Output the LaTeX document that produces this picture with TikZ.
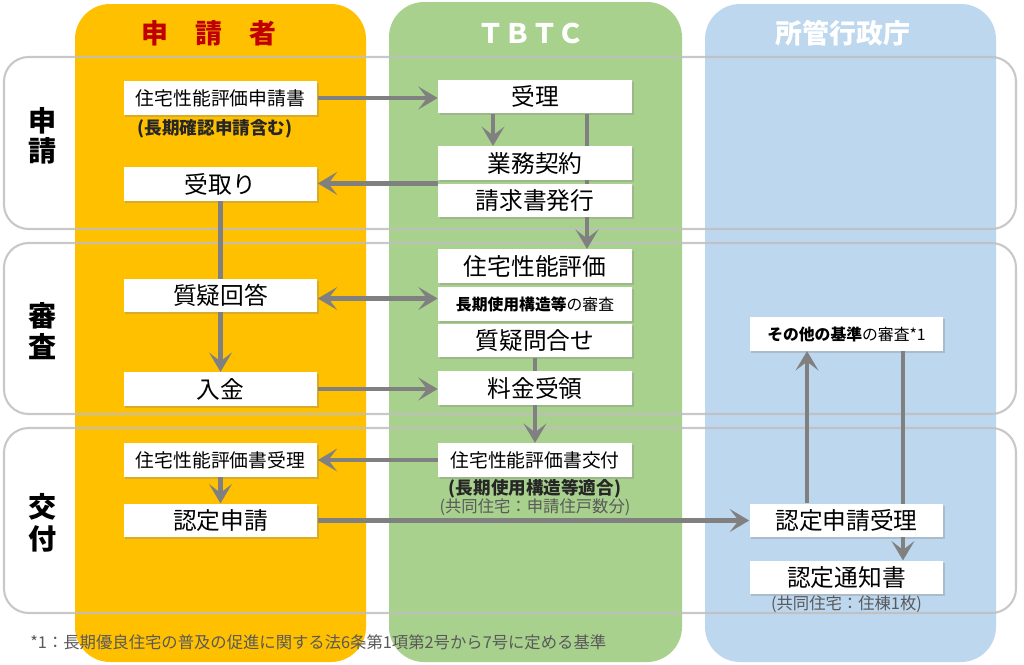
\documentclass[tikz,border=0pt]{standalone}
\usepackage{fontspec}
\setmainfont{Noto Sans CJK JP}
\usetikzlibrary{arrows.meta,shadows,calc}
\definecolor{cyellow}{HTML}{FFC000}
\definecolor{cgreen}{HTML}{A9D18E}
\definecolor{cblue}{HTML}{BDD7EE}
\definecolor{cred}{HTML}{C00000}
\definecolor{carrow}{HTML}{808080}
\definecolor{crow}{HTML}{BFBFBF}
\definecolor{cnote}{HTML}{595959}
\pgfdeclarelayer{bg}
\pgfdeclarelayer{mid}
\pgfsetlayers{bg,mid,main}
\begin{document}
\begin{tikzpicture}[x=0.02cm,y=-0.02cm,
  rowband/.style={rounded corners=14pt},
  colband/.style={rounded corners=20pt},
  header/.style={font=\bfseries\fontsize{15.3}{16}\selectfont},
  rowlabel/.style={font=\bfseries\fontsize{16}{18}\selectfont, text=black},
  pbox/.style={fill=white, inner sep=0pt, minimum width=3.88cm, minimum height=0.67cm,
    drop shadow={shadow xshift=1pt, shadow yshift=-1pt, opacity=0.3}},
  big/.style={pbox, font=\fontsize{13.5}{15}\selectfont},
  mid/.style={pbox, font=\fontsize{10.7}{12}\selectfont},
  small/.style={pbox, font=\fontsize{9}{11}\selectfont},
  note/.style={font=\fontsize{9.3}{11}\selectfont, text=cnote, inner sep=0pt},
  boldnote/.style={font=\bfseries\fontsize{10}{12}\selectfont, text=black!85, inner sep=0pt},
  arr/.style={draw=carrow, line width=2.5pt, -{Stealth[length=11pt,width=13pt,inset=5pt]}},
  dbl/.style={draw=carrow, line width=2.5pt, {Stealth[length=11pt,width=13pt,inset=5pt]}-{Stealth[length=11pt,width=13pt,inset=5pt]}},
  plain/.style={draw=carrow, line width=2.5pt}
]
\useasboundingbox (0,0) rectangle (1024,664);

% background: rows (white), columns
\begin{pgfonlayer}{bg}
  \fill[white] (0,0) rectangle (1024,664);
  \fill[white, rowband] (4,57) rectangle (1016,229);
  \fill[white, rowband] (4,243) rectangle (1016,414);
  \fill[white, rowband] (4,428) rectangle (1016,613);
  \fill[cyellow, colband] (75,4) rectangle (366,662);
  \fill[cgreen, colband] (389,2) rectangle (682,662);
  \fill[cblue, colband] (705,4) rectangle (996,662);
\end{pgfonlayer}
\begin{pgfonlayer}{mid}
  \draw[crow, line width=1.2pt, opacity=0.85, rowband] (4,57) rectangle (1016,229);
  \draw[crow, line width=1.2pt, opacity=0.85, rowband] (4,243) rectangle (1016,414);
  \draw[crow, line width=1.2pt, opacity=0.85, rowband] (4,428) rectangle (1016,613);
\end{pgfonlayer}

% column headers
\node[header, text=cred] (h1) at (209,33) {申　請　者};
\node[header, text=white] (h2) at (531,33) {ＴＢＴＣ};
\node[header, text=white] (h3) at (843,33) {所管行政庁};

% row labels
\node[rowlabel] (r1a) at (43,121) {申};
\node[rowlabel] (r1b) at (43,151) {請};
\node[rowlabel] (r2a) at (43,316) {審};
\node[rowlabel] (r2b) at (43,347) {査};
\node[rowlabel] (r3a) at (43,507) {交};
\node[rowlabel] (r3b) at (43,539) {付};

% applicant column
\node[mid] (A1) at (220.5,98) {住宅性能評価申請書};
\node[boldnote] (A1n) at (215,129) {(長期確認申請含む)};
\node[big] (A2) at (220.5,184) {受取り};
\node[big] (A3) at (220.5,295.5) {質疑回答};
\node[big] (A4) at (220.5,389) {入金};
\node[mid] (A5) at (220.5,460) {住宅性能評価書受理};
\node[big] (A6) at (220.5,520.5) {認定申請};

% TBTC column
\node[big] (T1) at (535,96.5) {受理};
\node[big] (T2) at (535,163) {業務契約};
\node[big] (T3) at (535,200.5) {請求書発行};
\node[big] (T4) at (535,266) {住宅性能評価};
\node[small] (T5) at (535,304) {{\bfseries 長期使用構造等}の審査};
\node[big] (T6) at (535,340.5) {質疑問合せ};
\node[big] (T7) at (535,388) {料金受領};
\node[mid] (T8) at (535,460) {住宅性能評価書交付};
\node[boldnote] (T8n) at (535,489) {(長期使用構造等適合)};
\node[note] (T8m) at (535,507) {(共同住宅：申請住戸数分)};

% authority column
\node[small] (G1) at (846.5,334) {{\bfseries その他の基準}の審査*1};
\node[big] (G2) at (846.5,520.5) {認定申請受理};
\node[big] (G3) at (846.5,577.5) {認定通知書};
\node[note] (G3n) at (846.5,604) {(共同住宅：住棟1枚)};

% footnote
\node[note, anchor=west] (fn) at (30,642) {*1：長期優良住宅の普及の促進に関する法6条第1項第2号から7号に定める基準};

% connectors
\begin{pgfonlayer}{mid}
  \draw[arr] (A1.east) -- (A1.east -| T1.west);
  \draw[arr] ([xshift=-0.84cm]T1.south) -- ([xshift=-0.84cm]T2.north);
  \draw[arr] ([xshift=1.04cm]T1.south) -- ([xshift=1.04cm]T4.north);
  \draw[arr] (T3.north west) -- (T3.north west -| A2.east);
  \draw[arr] (A2.south) -- (A4.north);
  \draw[dbl] ([yshift=-0.06cm]A3.east) -- ([yshift=-0.06cm]A3.east -| T5.west);
  \draw[arr] (A4.east) -- (A4.east -| T7.west);
  \draw[arr] (T6.south) -- (T8.north);
  \draw[arr] (T8.west) -- (T8.west -| A5.east);
  \draw[arr] (A5.south) -- (A6.north);
  \draw[arr] (A6.east) -- (A6.east -| G2.west);
  \draw[arr] ([xshift=-0.79cm]G2.north) -- ([xshift=-0.79cm]G1.south);
  \draw[arr] ([xshift=1.13cm]G1.south) -- ([xshift=1.13cm]G3.north);
\end{pgfonlayer}
\end{tikzpicture}
\end{document}
